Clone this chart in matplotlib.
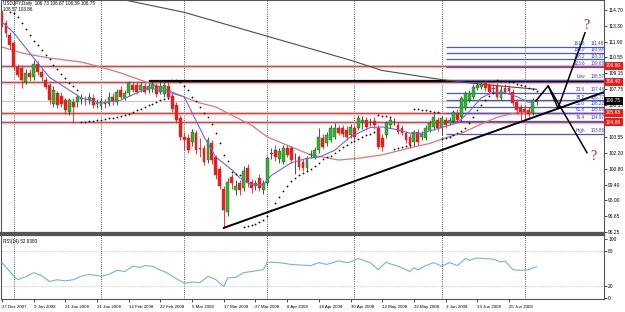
import matplotlib
matplotlib.use("Agg")
import matplotlib.pyplot as plt
import matplotlib.transforms as mtransforms

plt.rcParams["font.family"] = ["Liberation Sans", "DejaVu Sans"]

# daily USDJPY bars, 27 Dec 2007 .. 3 Jul 2008 (bar index = trading day)
OPENS = [114.44, 113.56, 112.50, 111.80, 109.70, 109.60, 108.40, 109.20, 108.80, 110.00,
         109.30, 108.60, 108.10, 106.50, 107.40, 107.20, 106.80, 105.80, 106.60, 106.60,
         106.90, 106.85, 106.80, 107.00, 106.50, 106.30, 106.60, 106.50, 107.10, 106.60,
         107.70, 107.00, 107.40, 108.10, 108.10, 107.70, 108.00, 107.70, 107.80, 108.00,
         107.50, 107.30, 108.00, 107.20, 106.40, 105.20, 103.60, 103.50, 103.10, 103.90,
         102.60, 102.60, 101.55, 103.00, 101.80, 100.80, 99.00, 97.00, 100.10, 98.90,
         99.50, 99.10, 100.85, 99.60, 99.30, 100.00, 98.90, 99.50, 102.10, 102.40,
         101.60, 101.40, 102.60, 102.60, 101.70, 101.80, 101.40, 100.85, 102.00, 101.80,
         102.40, 103.50, 103.00, 103.30, 103.60, 104.35, 104.35, 104.20, 103.75, 104.35,
         104.40, 104.90, 105.06, 104.85, 105.00, 104.40, 103.50, 103.75, 104.60, 104.85,
         104.60, 104.35, 103.90, 103.60, 103.10, 104.00, 103.60, 103.50, 104.20, 104.45,
         105.06, 104.35, 105.06, 104.80, 104.95, 105.70, 105.30, 106.10, 106.80, 107.10,
         107.90, 107.95, 108.30, 108.10, 107.85, 108.00, 107.00, 107.85, 107.85, 107.50,
         106.60, 106.20, 106.00, 105.90, 105.65, 106.73]
HIGHS = [114.70, 113.80, 112.80, 112.00, 110.00, 109.90, 109.50, 109.50, 110.30, 110.20,
         109.60, 108.80, 108.30, 108.00, 107.60, 107.50, 107.00, 107.00, 107.00, 107.30,
         107.30, 107.20, 107.40, 107.30, 106.90, 107.00, 106.90, 107.50, 107.40, 107.80,
         108.00, 107.70, 108.50, 108.40, 108.40, 108.40, 108.30, 108.30, 108.50, 108.30,
         108.50, 108.40, 108.40, 107.50, 106.60, 105.50, 104.00, 103.80, 104.30, 104.20,
         103.50, 102.90, 103.60, 103.30, 102.00, 101.00, 99.30, 100.00, 100.30, 99.80,
         99.80, 101.00, 101.20, 99.90, 99.80, 100.30, 99.80, 101.90, 102.60, 102.90,
         102.60, 102.90, 102.90, 102.80, 102.20, 102.00, 101.60, 101.90, 102.40, 102.70,
         104.40, 103.80, 104.00, 104.60, 104.80, 104.60, 104.60, 104.50, 104.70, 104.60,
         105.50, 105.40, 105.30, 105.20, 105.30, 104.60, 103.80, 105.00, 105.30, 105.20,
         104.90, 104.60, 104.10, 103.80, 104.20, 104.30, 104.10, 104.60, 105.10, 105.60,
         105.30, 105.40, 105.30, 105.30, 105.90, 106.00, 107.20, 107.60, 107.70, 108.20,
         108.50, 108.50, 108.50, 108.30, 108.20, 108.30, 108.00, 108.20, 108.10, 107.80,
         106.90, 106.50, 106.40, 106.20, 106.95, 106.87]
LOWS = [113.20, 112.30, 111.30, 109.40, 108.80, 107.90, 108.20, 108.50, 108.60, 109.00,
        108.50, 107.80, 106.50, 106.20, 106.10, 106.20, 105.60, 105.50, 104.80, 106.20,
        106.50, 106.40, 106.50, 106.10, 106.10, 106.00, 106.10, 106.30, 106.40, 106.40,
        106.90, 106.80, 107.20, 107.50, 107.30, 107.50, 107.30, 107.40, 107.50, 107.10,
        107.30, 107.10, 106.90, 105.80, 104.80, 103.30, 102.40, 102.20, 102.80, 102.10,
        101.80, 101.10, 101.30, 101.20, 99.90, 99.00, 95.60, 96.60, 99.00, 98.50,
        98.50, 98.80, 99.20, 98.70, 98.90, 98.80, 98.60, 99.30, 101.60, 101.50,
        101.30, 101.20, 101.80, 101.30, 100.30, 100.70, 100.60, 100.60, 101.70, 101.60,
        102.20, 102.50, 102.80, 103.10, 103.40, 103.70, 103.60, 103.30, 103.50, 103.30,
        104.20, 104.30, 104.20, 104.50, 104.30, 102.50, 102.30, 103.50, 104.40, 104.60,
        103.80, 103.70, 103.00, 102.60, 102.80, 102.90, 103.30, 103.30, 104.00, 104.20,
        104.10, 103.70, 104.40, 104.60, 104.80, 104.90, 105.00, 105.90, 106.60, 106.90,
        107.70, 107.80, 107.60, 107.30, 107.50, 106.90, 106.80, 107.30, 107.40, 106.30,
        105.60, 105.06, 105.20, 105.30, 105.50, 106.39]
CLOSES = [113.38, 112.68, 111.60, 109.70, 109.00, 108.60, 109.20, 108.80, 110.00, 109.30,
          108.80, 107.95, 106.80, 107.70, 106.40, 106.50, 105.90, 106.80, 106.20, 107.10,
          106.95, 106.80, 107.10, 106.40, 106.55, 106.70, 106.50, 107.10, 106.70, 107.50,
          107.10, 107.40, 108.30, 107.70, 107.50, 108.10, 107.50, 108.00, 108.20, 107.30,
          108.00, 108.10, 107.10, 106.00, 105.10, 103.60, 103.30, 102.40, 104.00, 102.40,
          102.55, 101.40, 103.30, 101.55, 100.20, 99.30, 97.20, 99.60, 99.50, 99.30,
          98.90, 100.60, 99.50, 99.10, 99.50, 99.10, 99.50, 101.70, 102.20, 101.80,
          102.30, 102.60, 102.00, 101.55, 101.75, 100.95, 100.85, 101.70, 102.05, 102.45,
          103.60, 102.70, 103.75, 104.35, 104.40, 103.90, 103.85, 103.60, 104.45, 103.60,
          105.20, 105.10, 104.45, 104.90, 104.60, 102.70, 102.70, 104.80, 105.10, 104.90,
          104.00, 103.90, 103.30, 102.90, 104.00, 103.10, 103.80, 104.35, 104.80, 105.30,
          104.35, 105.20, 104.60, 105.06, 105.75, 105.10, 107.00, 107.40, 107.40, 107.95,
          108.10, 108.20, 107.85, 107.50, 107.80, 107.10, 107.70, 107.50, 107.60, 106.55,
          105.90, 105.80, 105.75, 105.60, 106.80, 106.75]

# parabolic SAR dots (None = no dot)
SAR = [None, None, 114.50, 114.45, 114.10, 113.60, 113.00, 112.50, 112.00, 111.60,
       111.20, 110.80, 110.40, 109.90, 109.50, 109.10, 108.70, 108.30, 108.00, 107.70,
       104.85, 104.90, 104.95, 105.00, 105.05, 105.10, 105.15, 105.20, 105.25, 105.30,
       105.40, 105.50, 105.60, 105.75, 105.90, 106.05, 106.20, 106.35, 106.50, 106.65,
       106.80, 106.90, 107.00, 108.60, 108.55, 108.35, 108.05, 107.65, 107.10, 106.70,
       106.20, 105.70, 105.30, 104.70, 103.90, 103.00, 102.00, 101.50, 100.50, 100.35,
       100.20, 95.65, 95.75, 95.85, 95.95, 96.10, 96.30, 96.60, 97.20, 97.80,
       98.30, 98.80, 99.30, 99.70, 100.00, 100.20, 100.40, 100.60, 100.80, 101.00,
       101.30, 101.60, 101.80, 101.90, 102.20, 102.45, 102.70, 102.90, 103.10, 103.25,
       103.40, 103.55, 103.70, 103.85, 104.00, 105.50, 105.45, 105.40, 105.35, 102.50,
       102.60, 102.70, 102.80, 102.90, 106.00, 106.00, 105.95, 105.90, 105.85, 105.80,
       105.80, 103.40, 103.50, 103.60, 103.75, 103.90, 104.10, 104.40, 104.80, 105.30,
       105.90, 106.40, 106.85, 107.20, 107.45, 108.55, 108.50, 108.45, 108.40, 108.35,
       108.25, 108.15, 108.00, 107.90, 107.75, 107.60]

# moving averages (sampled along the drawn curves)
FAST_MA_BARS = [0, 3, 8, 12, 16, 20, 25, 30, 37, 42, 46, 48, 51, 54, 58, 60, 63, 66, 68,
                73, 77, 80, 84, 88, 93, 96, 100, 103, 106, 111, 115, 118, 121, 124, 127,
                130, 133, 135]
FAST_MA_VALS = [113.65, 112.7, 110.5, 108.8, 107.9, 107.0, 106.55, 106.8, 107.9, 107.5,
                107.1, 105.7, 103.6, 101.8, 100.7, 100.0, 99.4, 99.4, 100.2, 101.3, 101.7,
                101.8, 102.4, 103.6, 104.4, 104.45, 104.2, 103.9, 103.9, 104.4, 104.8,
                105.8, 107.0, 107.5, 107.45, 107.1, 106.6, 106.8]
MID_MA_BARS = [0, 5, 12, 20, 25, 30, 35, 40, 46, 50, 54, 63, 67, 73, 78, 85, 90, 96, 104,
               108, 112, 116, 121, 125, 130, 134]
MID_MA_VALS = [111.46, 110.93, 110.49, 110.14, 109.7, 109.18, 108.56, 107.95, 107.07,
               106.55, 106.2, 104.6, 103.57, 102.7, 102.0, 101.55, 101.7, 102.0, 102.7,
               103.0, 103.5, 103.9, 104.7, 105.3, 105.7, 105.6]
SLOW_MA_BARS = [0, 31, 46, 67, 88, 96, 111, 121, 135]
SLOW_MA_VALS = [117.8, 115.58, 114.5, 112.4, 110.3, 109.4, 108.6, 108.2, 107.75]

RSI_BARS = [0, 1, 2, 3, 4, 5, 6, 8, 10, 12, 14, 16, 18, 20, 22, 25, 27, 29, 31, 33, 35,
            36, 38, 40, 41, 43, 46, 48, 50, 52, 54, 56, 57, 59, 61, 63, 66, 67, 70, 73,
            75, 78, 80, 82, 85, 87, 88, 90, 92, 93, 95, 97, 98, 100, 103, 104, 105, 107,
            109, 111, 113, 115, 117, 118, 120, 122, 124, 126, 127, 129, 131, 133, 134, 135]
RSI_VALS = [60, 52, 45, 37, 31, 34, 36, 43, 38, 28, 31, 29, 31, 37, 40, 37, 40, 47, 45,
            54, 52, 55, 54, 47, 45, 37, 25, 27, 26, 37, 31, 19.5, 34, 35, 43, 45, 48, 61,
            60, 57, 56, 55, 60, 57, 63, 60, 61, 67, 62, 60, 48, 61, 58, 54, 45, 51, 48,
            55, 60, 54, 60, 55, 67, 64, 68, 67, 66, 61, 63, 48, 47, 48, 51, 53]

DATE_BARS = [0, 8, 16, 24, 32, 40, 48, 56, 64, 72, 80, 88, 96, 104, 112, 120, 128]
DATE_LABELS = ["27 Dec 2007", "9 Jan 2008", "21 Jan 2008", "31 Jan 2008", "12 Feb 2008",
               "22 Feb 2008", "5 Mar 2008", "17 Mar 2008", "27 Mar 2008", "8 Apr 2008",
               "18 Apr 2008", "30 Apr 2008", "12 May 2008", "22 May 2008", "3 Jun 2008",
               "13 Jun 2008", "25 Jun 2008"]
MONTH_BARS = [3, 25, 46, 67, 89, 111, 132]

# 104.95 sits under the 104.86 marker box, so its label is blank like in the terminal
PRICE_TICKS = [95.25, 96.65, 98.00, 99.40, 100.80, 102.20, 103.55, 104.95, 106.35,
               107.75, 109.15, 110.55, 111.90, 113.30, 114.70]
HIDDEN_TICKS = [104.95]
RED_LEVELS = [109.80, 108.40, 105.68, 104.86]
RESIST_LEVEL = 108.45
RESIST_START = 37
BID = 106.75

FIB_NAMES = ["161.8", "150.0", "138.2", "123.6", "Low", "23.6", "38.2", "50.0", "61.8",
             "76.4", "High"]
FIB_VALS = [111.48, 110.93, 110.37, 109.68, 108.57, 107.46, 106.77, 106.22, 105.66,
            104.97, 103.86]
FIB_START = 112

TREND_BARS = [56, 152]
TREND_VALS = [95.6, 107.5]
PATH_UP_BARS = [134.8, 137.9, 140.4, 147.2]
PATH_UP_VALS = [106.73, 108.05, 106.1, 112.7]
PATH_DN_BARS = [137.9, 147.7]
PATH_DN_VALS = [108.05, 102.2]

RED = "#e3201b"
GREEN = "#2fb52f"
XMIN, XMAX = -0.25, 152.0


def draw_candles(ax):
    for i, (o, h, l, c) in enumerate(zip(OPENS, HIGHS, LOWS, CLOSES)):
        up = c >= o
        col = GREEN if up else RED
        ax.vlines(i, l, h, color="#333333" if up else RED, lw=0.6, zorder=3)
        body = max(abs(c - o), 0.05)
        ax.bar(i, body, bottom=min(o, c), width=0.72, color=col,
               edgecolor="#1d5e1d" if up else RED, lw=0.3, zorder=4)


def main():
    fig = plt.figure(figsize=(6.25, 3.12), dpi=100)
    ax = fig.add_axes([1 / 625, 1 - 233 / 312, 603 / 625, 233 / 312])
    rsi = fig.add_axes([1 / 625, 1 - 299 / 312, 603 / 625, 64 / 312])

    ax.set_xlim(XMIN, XMAX)
    ax.set_ylim(95.15, 115.58)
    rsi.set_xlim(XMIN, XMAX)
    rsi.set_ylim(-1.7, 106.9)

    for a in (ax, rsi):
        for b in MONTH_BARS:
            a.axvline(b, color="#222222", ls=(0, (1, 1.6)), lw=0.6, zorder=1)
        for s in a.spines.values():
            s.set_color("#555555")
            s.set_linewidth(0.8)
    ax.spines["bottom"].set_linewidth(1.6)
    rsi.spines["top"].set_linewidth(1.6)

    # horizontal levels
    ax.axhline(BID, color="#c8c8c8", lw=0.8, zorder=1)
    for lv in RED_LEVELS:
        ax.axhline(lv, color="#f2b8b8", lw=2.2, zorder=1)
        ax.axhline(lv, color="#d84040", lw=0.7, zorder=1)
    ax.hlines(RESIST_LEVEL, RESIST_START, XMAX, color="black", lw=1.6, zorder=2)

    # fibonacci levels
    for name, v in zip(FIB_NAMES, FIB_VALS):
        ax.hlines(v, FIB_START, XMAX, color="#4a55d0", lw=0.9, zorder=2)
        ax.text(147.2, v + 0.07, name, ha="right", va="bottom", fontsize=3.3,
                color="#3a3ad0", zorder=6)
        ax.text(148.6, v + 0.07, f"{v:.2f}", ha="left", va="bottom", fontsize=3.3,
                color="#3a3ad0", zorder=6, clip_on=False)

    ax.plot(SLOW_MA_BARS, SLOW_MA_VALS, color="#4d4d4d", lw=0.8, zorder=2)
    ax.plot(MID_MA_BARS, MID_MA_VALS, color="#d47a7a", lw=0.9, zorder=2)
    draw_candles(ax)
    ax.plot(FAST_MA_BARS, FAST_MA_VALS, color="#6a6ad8", lw=0.8, zorder=5)

    sar_x = [i for i, v in enumerate(SAR) if v is not None]
    sar_y = [v for v in SAR if v is not None]
    ax.scatter(sar_x, sar_y, s=1.6, color="black", zorder=5, linewidths=0)

    ax.plot(TREND_BARS, TREND_VALS, color="black", lw=1.4, zorder=6)
    ax.plot(PATH_UP_BARS, PATH_UP_VALS, color="black", lw=1.1, zorder=6)
    ax.plot(PATH_DN_BARS, PATH_DN_VALS, color="black", lw=1.1, zorder=6)
    ax.text(PATH_UP_BARS[-1] + 0.3, PATH_UP_VALS[-1] + 0.05, "?", ha="center",
            va="bottom", fontsize=10, color="#b51c1c", family="Liberation Serif", zorder=7)
    ax.text(PATH_DN_BARS[-1] + 1.6, PATH_DN_VALS[-1] - 0.3, "?", ha="center",
            va="center", fontsize=10, color="#b51c1c", family="Liberation Serif", zorder=7)

    # price scale on the right
    ax.yaxis.tick_right()
    ax.set_yticks(PRICE_TICKS)
    ax.set_yticklabels(["" if t in HIDDEN_TICKS else f"{t:.2f}" for t in PRICE_TICKS])
    ax.tick_params(axis="y", length=2, width=0.5, pad=1, labelsize=3.5)
    ax.set_xticks([])
    tr = mtransforms.blended_transform_factory(ax.transAxes, ax.transData)
    for lv in RED_LEVELS + [BID]:
        fc = "black" if lv == BID else RED
        ax.text(1.003, lv, f"{lv:.2f}", transform=tr, ha="left", va="center",
                fontsize=3.5, color="white", zorder=10,
                bbox=dict(boxstyle="square,pad=0.35", fc=fc, ec="none"))

    ax.text(0.004, 0.995, "USDJPY,Daily  106.73 106.87 106.39 106.75", transform=ax.transAxes,
            ha="left", va="top", fontsize=3.3)
    ax.text(0.004, 0.968, "108.57 103.86", transform=ax.transAxes,
            ha="left", va="top", fontsize=3.3)

    # RSI pane
    for lv in (80, 20):
        rsi.axhline(lv, color="#bbbbbb", ls=(0, (2, 2)), lw=0.5, zorder=1)
    rsi.plot(RSI_BARS, RSI_VALS, color="#79aee0", lw=0.8, zorder=3)
    rsi.text(0.004, 0.93, "RSI(14) 52.9380", transform=rsi.transAxes, ha="left",
             va="top", fontsize=3.3)
    rsi.yaxis.tick_right()
    rsi.set_yticks([0, 20, 80, 100])
    rsi.set_yticklabels(["0", "20", "80", "100"])
    rsi.tick_params(axis="y", length=2, width=0.5, pad=1, labelsize=3.5)
    rsi.set_xticks(DATE_BARS)
    rsi.set_xticklabels(DATE_LABELS, ha="left")
    rsi.tick_params(axis="x", length=2.5, width=0.5, pad=1.5, labelsize=3.2)

    fig.savefig("out.png", dpi=100, facecolor="white")


if __name__ == "__main__":
    main()
